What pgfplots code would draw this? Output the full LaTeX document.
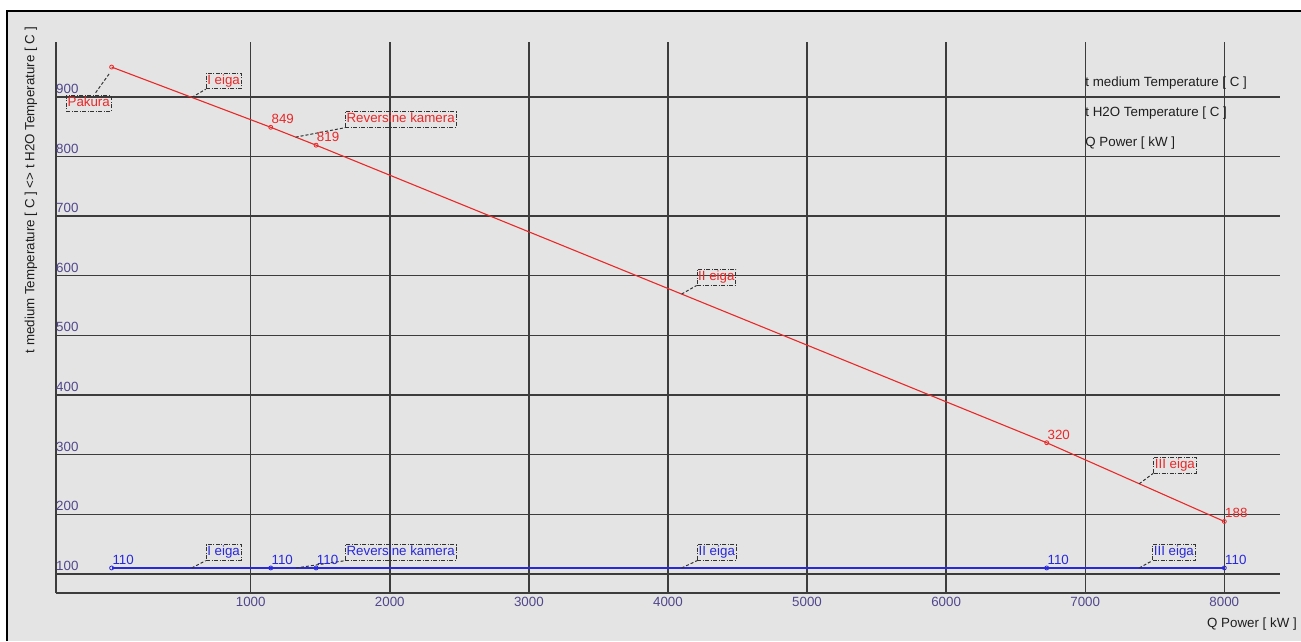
\documentclass[border=0pt]{standalone}
\usepackage{pgfplots}
\usepackage{pgfplotstable}
\pgfplotsset{compat=1.18}
\usepackage{fontspec}
\setmainfont{Liberation Sans}

\definecolor{bgc}{RGB}{228,228,228}
\definecolor{gridc}{RGB}{60,60,60}
\definecolor{tickc}{RGB}{80,70,140}
\definecolor{redc}{RGB}{235,40,40}
\definecolor{bluec}{RGB}{40,40,220}
\definecolor{boxc}{RGB}{50,50,50}
\definecolor{labc}{RGB}{30,30,30}

\newcommand{\chartfont}{\fontsize{13.33}{16}\selectfont}

% heat load Q [kW] vs. temperature [C]
\pgfplotstableread{
Q     T
0     950
1144  849
1470  819
6723  320
8000  188
}\mediumT
\pgfplotstableread{
Q     T
0     110
1144  110
1470  110
6723  110
8000  110
}\waterT

\tikzset{
  annot/.style={draw=boxc, line width=0.8pt,
    dash pattern=on 4pt off 1.5pt on 1pt off 1.5pt,
    inner xsep=1.2pt, inner ysep=1.6pt, text height=9.6pt, text depth=2.8pt,
    font=\chartfont, anchor=south west},
  leader/.style={draw=boxc, line width=1pt, dash pattern=on 3pt off 2pt},
  valnode/.style={anchor=base west, inner sep=0pt, xshift=0.5pt, yshift=3.5pt, font=\chartfont},
}

\begin{document}
\begin{tikzpicture}
\useasboundingbox (0pt,0pt) rectangle (1301pt,-641pt);
\fill[white] (0pt,0pt) rectangle (1301pt,-641pt);
\fill[bgc] (7pt,-10pt) rectangle (1301pt,-641pt);
\draw[black, line width=2.5pt] (7pt,-641pt) -- (7pt,-10.8pt) -- (1301pt,-10.8pt);

\begin{axis}[
  at={(56pt,-593pt)}, anchor=south west,
  scale only axis, width=1224pt, height=551pt,
  xmin=-400, xmax=8400, ymin=68, ymax=992,
  axis lines*=left,
  axis line style={-, draw=gridc, line width=1.4pt},
  xtick={1000,2000,...,8000}, ytick={100,200,...,900},
  major tick length=0pt,
  grid=major, major grid style={draw=gridc, line width=1.4pt},
  tick label style={font=\chartfont, text=tickc},
  xticklabel style={anchor=north, inner sep=0pt, yshift=-4pt},
  yticklabel style={anchor=base west, inner sep=0pt, yshift=3.5pt},
  /pgf/number format/assume math mode=true,
  /pgf/number format/1000 sep={},
  xlabel={Q Power [ kW ]},
  ylabel={t medium Temperature [ C ] <> t H2O Temperature [ C ]},
  xlabel style={at={(rel axis cs:1.0139,-0.0617)}, anchor=base east, inner sep=0pt, font=\chartfont, text=labc},
  ylabel style={at={(rel axis cs:-0.0204,1.0272)}, anchor=east, inner sep=0pt, font=\chartfont, text=labc},
  clip=false,
]
% flue gas temperature
\addplot[redc, line width=1.1pt, mark=o, mark size=2pt, mark options={solid, line width=0.8pt},
  point meta=y,
  visualization depends on={value \coordindex \as \idx},
  nodes near coords={\ifnum\idx=0\relax\else\pgfmathprintnumber{\pgfplotspointmeta}\fi},
  every node near coord/.append style={valnode, text=redc}]
  table[x=Q, y=T] {\mediumT};
% water temperature
\addplot[bluec, line width=1.1pt, mark=o, mark size=2pt, mark options={solid, line width=0.8pt},
  point meta=y,
  nodes near coords={\pgfmathprintnumber{\pgfplotspointmeta}},
  every node near coord/.append style={valnode, text=bluec}]
  table[x=Q, y=T] {\waterT};

% section tags, medium side
\node[annot, text=redc] at (axis cs:-328,875) {Pakura};
\draw[leader] (axis cs:-115,907) -- (axis cs:-12,940.5);
\node[annot, text=redc] (r1) at (axis cs:676,912.7) {I eiga};
\draw[leader] (axis cs:576,899.1) -- (r1.south west);
\node[annot, text=redc] (r2) at (axis cs:1678,848.3) {Reversine kamera};
\draw[leader] (axis cs:1323,832.5) -- (r2.south west);
\node[annot, text=redc] (r3) at (axis cs:4206,583.7) {II eiga};
\draw[leader] (axis cs:4098,569.3) -- (r3.south west);
\node[annot, text=redc] (r4) at (axis cs:7489,268.7) {III eiga};
\draw[leader] (axis cs:7388,251.2) -- (r4.south west);

% section tags, water side
\node[annot, text=bluec] (b1) at (axis cs:676,122.2) {I eiga};
\draw[leader] (axis cs:576,110) -- (b1.south west);
\node[annot, text=bluec] (b2) at (axis cs:1678,122.2) {Reversine kamera};
\draw[leader] (axis cs:1326,110) -- (b2.south west);
\node[annot, text=bluec] (b3) at (axis cs:4209,122.2) {II eiga};
\draw[leader] (axis cs:4098,110) -- (b3.south west);
\node[annot, text=bluec] (b4) at (axis cs:7482,122.2) {III eiga};
\draw[leader] (axis cs:7388,110) -- (b4.south west);

% series captions
\node[anchor=base west, inner sep=0pt, font=\chartfont, text=labc] at (axis cs:7000,918.2) {t medium Temperature [ C ]};
\node[anchor=base west, inner sep=0pt, font=\chartfont, text=labc] at (axis cs:7000,867.9) {t H2O Temperature [ C ]};
\node[anchor=base west, inner sep=0pt, font=\chartfont, text=labc] at (axis cs:7000,817.6) {Q Power [ kW ]};
\end{axis}
\end{tikzpicture}
\end{document}
